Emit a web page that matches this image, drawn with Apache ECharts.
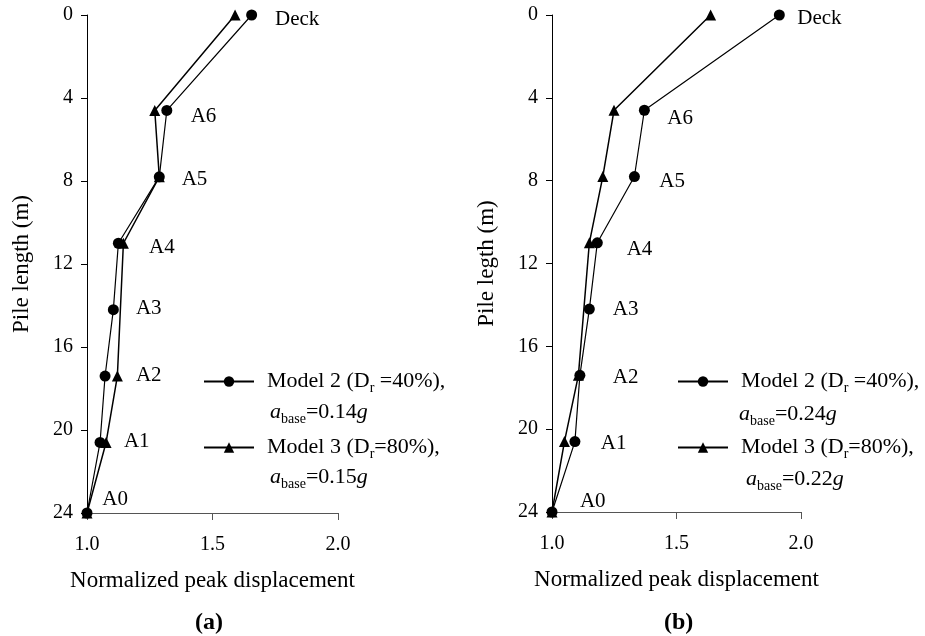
<!DOCTYPE html>
<html>
<head>
<meta charset="utf-8">
<script src="https://cdn.jsdelivr.net/npm/echarts@6/dist/echarts.min.js"></script>
<style>
html,body{margin:0;padding:0;background:#fff;}
#chart{width:925px;height:636px;}
</style>
</head>
<body>
<div id="chart"></div>
<script>
// ---- data ----
const depths = [0, 4.6, 7.8, 11.0, 14.2, 17.4, 20.6, 24];
const pointNames = ['Deck', 'A6', 'A5', 'A4', 'A3', 'A2', 'A1', 'A0'];
// Panel (a)
const model2A = [1.656, 1.318, 1.288, 1.125, 1.105, 1.072, 1.052, 1.0];
const model3A = [1.590, 1.270, 1.288, 1.145, null, 1.121, 1.076, 1.0];
// Panel (b)
const model2B = [1.913, 1.371, 1.331, 1.182, 1.150, 1.112, 1.092, 1.0];
const model3B = [1.637, 1.249, 1.204, 1.150, null, 1.106, 1.050, 1.0];
// label anchor positions (data units)
const labelXA = [1.749, 1.413, 1.377, 1.247, 1.195, 1.195, 1.147, 1.061];
const labelYA = [0.24, 4.87, 7.95, 11.18, 14.12, 17.35, 20.56, 23.37];
const labelXB = [1.985, 1.463, 1.431, 1.300, 1.244, 1.244, 1.196, 1.112];
const labelYB = [0.17, 5.0, 8.06, 11.32, 14.22, 17.5, 20.69, 23.5];
const xTicks = {min: 1.0, max: 2.0, interval: 0.5};
const yTicks = {min: 0, max: 24, interval: 4};
const abaseA = ['0.14', '0.15'];
const abaseB = ['0.24', '0.22'];
const drValues = ['40', '80'];

const FONT = 'Liberation Serif';
const nameM2A = 'Model 2 a', nameM3A = 'Model 3 a', nameM2B = 'Model 2 b', nameM3B = 'Model 3 b';

function pairs(xs) {
  const out = [];
  xs.forEach((x, i) => { if (x !== null) out.push([x, depths[i]]); });
  return out;
}
function labelData(xs, ys) {
  return pointNames.map((n, i) => ({name: n, value: [xs[i], ys[i]]}));
}

const rich = {
  t: {fontFamily: FONT, fontSize: 22, color: '#000', lineHeight: 27},
  p: {fontFamily: FONT, fontSize: 22, color: '#000', lineHeight: 27, padding: [0, 0, 0, 8]},
  s: {fontFamily: FONT, fontSize: 14, color: '#000', lineHeight: 14, padding: [13, 0, 0, 0]},
  i: {fontFamily: FONT, fontSize: 22, fontStyle: 'italic', color: '#000', lineHeight: 27}
};

function xAxisOpt(idx) {
  return {
    gridIndex: idx, type: 'value', min: xTicks.min, max: xTicks.max, interval: xTicks.interval,
    name: 'Normalized peak displacement', nameLocation: 'middle', nameGap: 56,
    nameTextStyle: {fontFamily: FONT, fontSize: 23, color: '#000'},
    axisLine: {onZero: false, lineStyle: {color: '#555', width: 1}},
    axisTick: {inside: false, length: 7, lineStyle: {color: '#555', width: 1}},
    axisLabel: {fontFamily: FONT, fontSize: 20, color: '#000', margin: 22, formatter: v => v.toFixed(1)},
    splitLine: {show: false}
  };
}
function yAxisOpt(idx, name) {
  return {
    gridIndex: idx, type: 'value', inverse: true, min: yTicks.min, max: yTicks.max, interval: yTicks.interval,
    name: name, nameLocation: 'middle', nameGap: 54,
    nameTextStyle: {fontFamily: FONT, fontSize: 23, color: '#000'},
    axisLine: {onZero: false, lineStyle: {color: '#000', width: 1}},
    axisTick: {inside: false, length: 6, lineStyle: {color: '#000', width: 1}},
    axisLabel: {fontFamily: FONT, fontSize: 20, color: '#000', margin: 14},
    splitLine: {show: false}
  };
}
function lineSeries(name, idx, xs, symbol, size, width) {
  return {
    name: name, type: 'line', xAxisIndex: idx, yAxisIndex: idx, data: pairs(xs),
    symbol: symbol, symbolSize: size, connectNulls: true,
    lineStyle: {color: '#000', width: width}, itemStyle: {color: '#000'},
    animation: false
  };
}
function labelSeries(idx, xs, ys) {
  return {
    type: 'scatter', xAxisIndex: idx, yAxisIndex: idx, data: labelData(xs, ys),
    symbolSize: 0, silent: true, clip: false,
    itemStyle: {color: '#000', opacity: 1},
    label: {show: true, position: 'right', distance: 0, formatter: '{b}',
      fontFamily: FONT, fontSize: 21, color: '#000', opacity: 1},
    animation: false
  };
}
function legendOpt(name, left, top, fmt) {
  return {
    data: [name], left: left, top: top, orient: 'vertical', padding: 0,
    itemWidth: 50, itemHeight: 13, selectedMode: false,
    textStyle: {fontFamily: FONT, fontSize: 22, color: '#000', rich: rich},
    formatter: () => fmt
  };
}
function subText(left, top, val) {
  return {
    type: 'text', left: left, top: top,
    style: {text: '{i|a}{s|base}{t|=' + val + '}{i|g}', rich: rich}
  };
}

const option = {
  backgroundColor: '#fff',
  animation: false,
  grid: [
    {left: 87, top: 15, width: 251, height: 498},
    {left: 552, top: 15, width: 249, height: 497}
  ],
  xAxis: [xAxisOpt(0), xAxisOpt(1)],
  yAxis: [yAxisOpt(0, 'Pile length (m)'), yAxisOpt(1, 'Pile legth (m)')],
  legend: [
    legendOpt(nameM2A, 203, 368, '{p|Model 2 (D}{s|r}{t| =' + drValues[0] + '%),}'),
    legendOpt(nameM3A, 203, 434, '{p|Model 3 (D}{s|r}{t|=' + drValues[1] + '%),}'),
    legendOpt(nameM2B, 677, 368, '{p|Model 2 (D}{s|r}{t| =' + drValues[0] + '%),}'),
    legendOpt(nameM3B, 677, 434, '{p|Model 3 (D}{s|r}{t|=' + drValues[1] + '%),}')
  ],
  graphic: [
    subText(270, 399, abaseA[0]),
    subText(270, 464, abaseA[1]),
    subText(739, 401, abaseB[0]),
    subText(746, 466, abaseB[1]),
    {type: 'text', left: 195, top: 611, style: {text: '(a)', font: 'bold 24px "Liberation Serif"', fill: '#000'}},
    {type: 'text', left: 664, top: 611, style: {text: '(b)', font: 'bold 24px "Liberation Serif"', fill: '#000'}}
  ],
  series: [
    lineSeries(nameM2A, 0, model2A, 'circle', 11, 1.2),
    lineSeries(nameM3A, 0, model3A, 'triangle', 11, 1.5),
    labelSeries(0, labelXA, labelYA),
    lineSeries(nameM2B, 1, model2B, 'circle', 11, 1.2),
    lineSeries(nameM3B, 1, model3B, 'triangle', 11, 1.5),
    labelSeries(1, labelXB, labelYB)
  ]
};

const chart = echarts.init(document.getElementById('chart'), null, {renderer: 'canvas'});
chart.setOption(option);
</script>
</body>
</html>
